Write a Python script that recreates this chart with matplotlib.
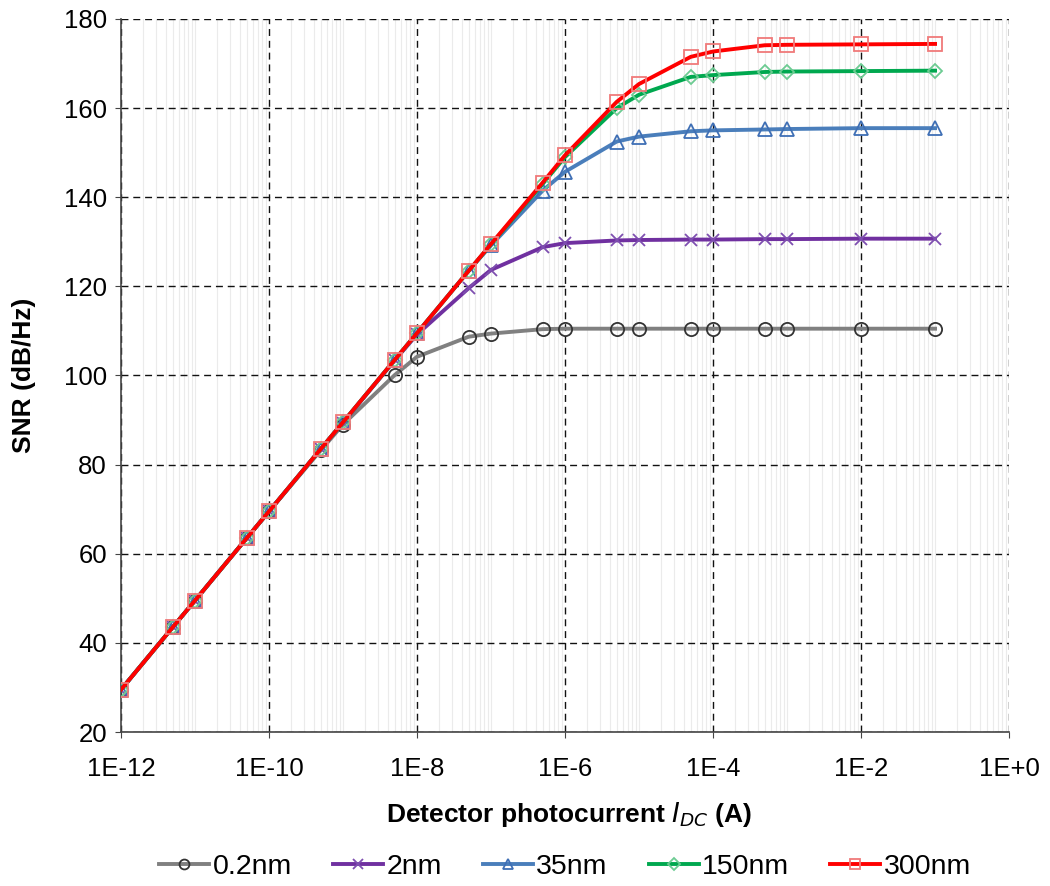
import matplotlib
matplotlib.use("Agg")
import matplotlib.pyplot as plt
from matplotlib.ticker import LogLocator, NullFormatter

plt.rcParams['font.family'] = ['Liberation Sans', 'DejaVu Sans']

current = [1e-12, 5e-12, 1e-11, 5e-11, 1e-10, 5e-10, 1e-9, 5e-9, 1e-8, 5e-8,
           1e-7, 5e-7, 1e-6, 5e-6, 1e-5, 5e-5, 1e-4, 5e-4, 1e-3, 1e-2, 1e-1]

snr_02nm = [29.5, 43.5, 49.5, 63.5, 69.5, 83.2, 89.0, 100.1, 104.2, 108.7,
            109.4, 110.4, 110.5, 110.5, 110.5, 110.5, 110.5, 110.5, 110.5, 110.5, 110.5]
snr_2nm = [29.5, 43.5, 49.5, 63.5, 69.5, 83.5, 89.4, 103.4, 109.2, 119.6,
           123.7, 128.8, 129.7, 130.3, 130.4, 130.5, 130.5, 130.6, 130.6, 130.7, 130.7]
snr_35nm = [29.5, 43.5, 49.5, 63.5, 69.5, 83.5, 89.5, 103.5, 109.5, 123.5,
            129.2, 141.5, 145.7, 152.5, 153.6, 154.8, 155.0, 155.2, 155.3, 155.5, 155.5]
snr_150nm = [29.5, 43.5, 49.5, 63.5, 69.5, 83.5, 89.5, 103.5, 109.5, 123.5,
             129.4, 143.0, 149.0, 160.0, 163.0, 167.0, 167.4, 168.1, 168.2, 168.3, 168.4]
snr_300nm = [29.5, 43.5, 49.5, 63.5, 69.5, 83.5, 89.5, 103.5, 109.5, 123.5,
             129.5, 143.3, 149.4, 161.4, 165.4, 171.5, 172.7, 174.1, 174.2, 174.3, 174.4]

labels = ['0.2nm', '2nm', '35nm', '150nm', '300nm']
series = [snr_02nm, snr_2nm, snr_35nm, snr_150nm, snr_300nm]
line_colors = ['#808080', '#7030A0', '#4A7EBB', '#00A84F', '#FF0000']
edge_colors = ['#333333', '#7E4FB0', '#3F6FB5', '#6CCB92', '#F07A7A']
markers = ['o', 'x', '^', 'D', 's']
msizes = [9.5, 9, 9.5, 7.5, 9.5]

x_tick_vals = [1e-12, 1e-10, 1e-8, 1e-6, 1e-4, 1e-2, 1e0]
x_tick_labels = ['1E-12', '1E-10', '1E-8', '1E-6', '1E-4', '1E-2', '1E+0']
y_ticks = [20, 40, 60, 80, 100, 120, 140, 160, 180]

fig = plt.figure(figsize=(10.5, 8.86), dpi=100)
ax = fig.add_axes([0.1152, 0.1738, 0.8458, 0.8048])

for lab, ys, lc, ec, m, ms in zip(labels, series, line_colors, edge_colors, markers, msizes):
    ax.plot(current, ys, color=lc, lw=2.8, marker=m, markersize=ms,
            markerfacecolor='none', markeredgecolor=ec, markeredgewidth=1.3,
            label=lab, zorder=3)

ax.set_xscale('log')
ax.set_xlim(1e-12, 1e0)
ax.set_ylim(20, 180)
ax.set_xticks(x_tick_vals)
ax.set_xticklabels(x_tick_labels)
ax.xaxis.set_minor_locator(LogLocator(base=10, subs=[1, 2, 3, 4, 5, 6, 7, 8, 9], numticks=100))
ax.xaxis.set_minor_formatter(NullFormatter())
ax.set_yticks(y_ticks)

ax.grid(which='major', axis='both', color='#111111', linestyle=(0, (5, 3.5)), lw=1.0, zorder=1)
ax.grid(which='minor', axis='x', color='#ebebeb', linestyle='-', lw=0.8, zorder=0)

for side in ['top', 'right']:
    ax.spines[side].set_visible(False)
ax.spines['left'].set_color('#444444')
ax.spines['bottom'].set_color('#444444')
ax.spines['left'].set_linewidth(1.2)
ax.spines['bottom'].set_linewidth(1.2)
ax.tick_params(axis='both', which='major', labelsize=18.5, length=4, color='#444444', pad=6)
ax.tick_params(axis='x', which='major', pad=14)
ax.tick_params(axis='x', which='minor', length=0)

ax.set_ylabel('SNR (dB/Hz)', fontsize=19, fontweight='bold')
ax.yaxis.label.set_rotation_mode('anchor')
ax.yaxis.label.set_va('center')
ax.yaxis.label.set_ha('center')
ax.yaxis.set_label_coords(-0.109, 0.5)

ax.set_xlabel(r'Detector photocurrent $\boldsymbol{I_{DC}}$ (A)', fontsize=19, fontweight='bold')
ax.xaxis.label.set_va('center')
ax.xaxis.set_label_coords(0.504, -0.115)

leg = fig.legend(loc='center', bbox_to_anchor=(565 / 1050, 1 - 867 / 886), ncol=5, frameon=False,
                 fontsize=20.5, handlelength=1.75, handletextpad=0.12, columnspacing=1.45,
                 markerscale=0.75, borderpad=0)

fig.savefig('out.png', dpi=100)
